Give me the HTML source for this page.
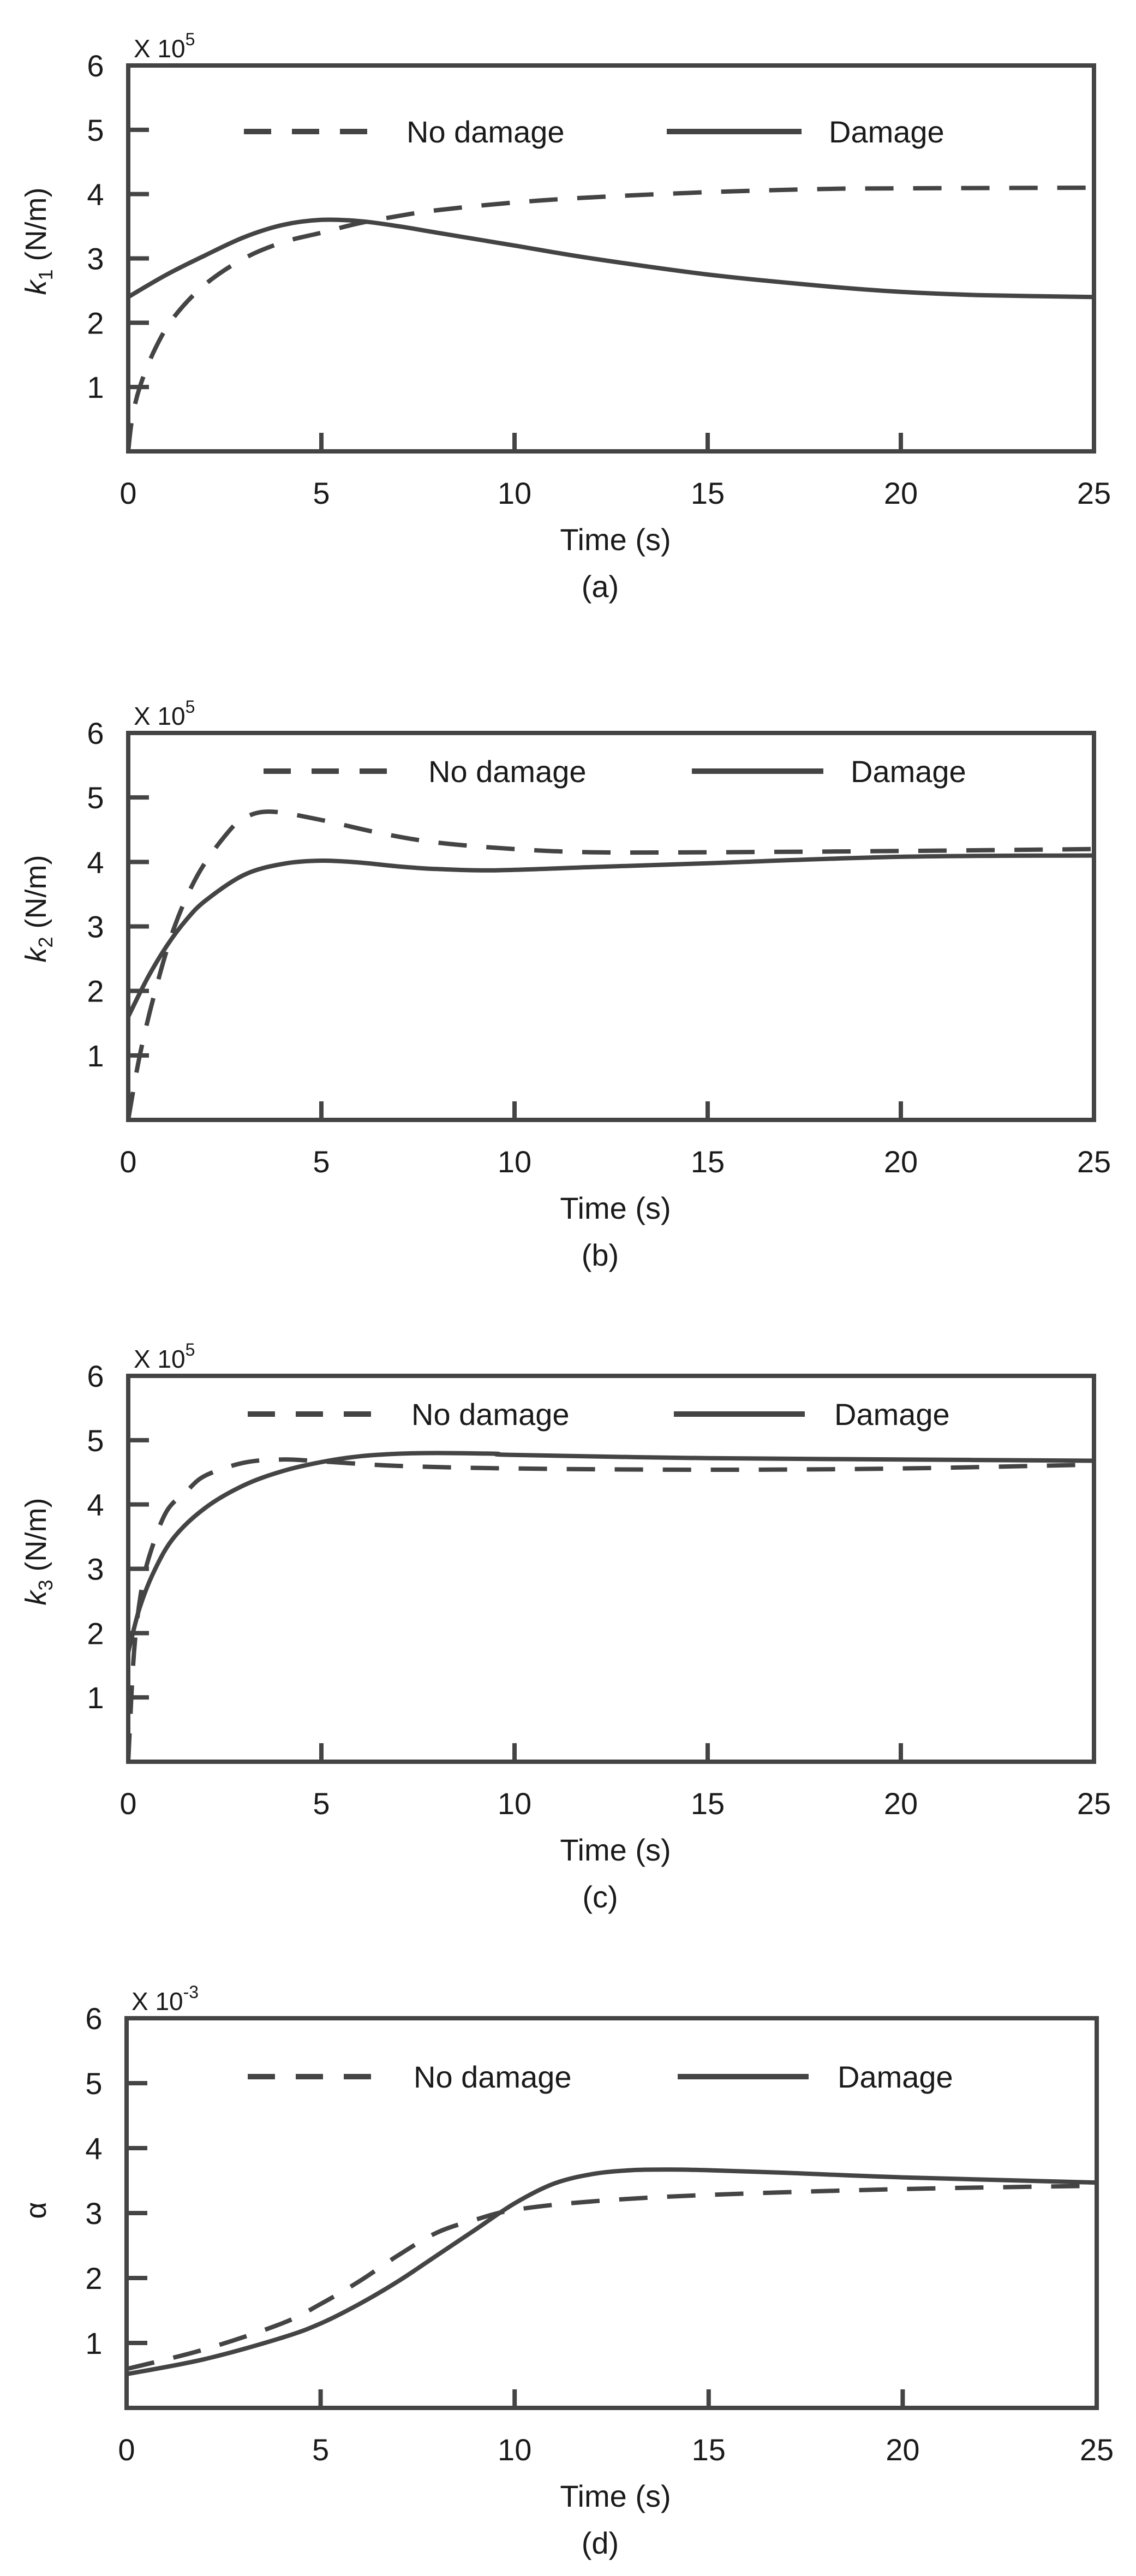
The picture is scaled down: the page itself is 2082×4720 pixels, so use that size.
<!DOCTYPE html>
<html><head><meta charset="utf-8">
<style>
html,body{margin:0;padding:0;background:#fff;}
svg{display:block;}
text{font-family:"Liberation Sans",sans-serif;fill:#1a1a1a;}
</style></head>
<body>
<svg id="s" width="2082" height="4720" viewBox="0 0 2082 4720" xmlns="http://www.w3.org/2000/svg">
<rect width="2082" height="4720" fill="#fff"/>
<g id="g"></g>
<!-- panel a -->
<text x="245" y="105" font-size="46">X 10<tspan dy="-22" font-size="32">5</tspan></text>
<text x="745" y="261" font-size="56">No damage</text>
<text x="1519" y="261" font-size="56">Damage</text>
<text transform="translate(84,442) rotate(-90)" text-anchor="middle" font-size="54"><tspan font-style="italic">k</tspan><tspan font-size="36" dy="12">1</tspan><tspan dy="-12">  (N/m)</tspan></text>
<text x="1128" y="1008" text-anchor="middle" font-size="56">Time  (s)</text>
<text x="1100" y="1094" text-anchor="middle" font-size="56">(a)</text>
<!-- panel b -->
<text x="245" y="1328" font-size="46">X 10<tspan dy="-22" font-size="32">5</tspan></text>
<text x="785" y="1433" font-size="56">No damage</text>
<text x="1559" y="1433" font-size="56">Damage</text>
<text transform="translate(84,1665) rotate(-90)" text-anchor="middle" font-size="54"><tspan font-style="italic">k</tspan><tspan font-size="36" dy="12">2</tspan><tspan dy="-12">  (N/m)</tspan></text>
<text x="1128" y="2233" text-anchor="middle" font-size="56">Time  (s)</text>
<text x="1100" y="2319" text-anchor="middle" font-size="56">(b)</text>
<!-- panel c -->
<text x="245" y="2506" font-size="46">X 10<tspan dy="-22" font-size="32">5</tspan></text>
<text x="754" y="2611" font-size="56">No damage</text>
<text x="1529" y="2611" font-size="56">Damage</text>
<text transform="translate(84,2843) rotate(-90)" text-anchor="middle" font-size="54"><tspan font-style="italic">k</tspan><tspan font-size="36" dy="12">3</tspan><tspan dy="-12">  (N/m)</tspan></text>
<text x="1128" y="3409" text-anchor="middle" font-size="56">Time  (s)</text>
<text x="1100" y="3495" text-anchor="middle" font-size="56">(c)</text>
<!-- panel d -->
<text x="241" y="3683" font-size="46">X 10<tspan dy="-22" font-size="32">-3</tspan></text>
<text x="758" y="3825" font-size="56">No damage</text>
<text x="1535" y="3825" font-size="56">Damage</text>
<text transform="translate(84,4050) rotate(-90)" text-anchor="middle" font-size="54">α</text>
<text x="1128" y="4593" text-anchor="middle" font-size="56">Time  (s)</text>
<text x="1100" y="4679" text-anchor="middle" font-size="56">(d)</text>
<g id="ticks"></g>
</svg>
<script>
var NS="http://www.w3.org/2000/svg",g=document.getElementById('g'),tg=document.getElementById('ticks');
function el(n,a,p){var e=document.createElementNS(NS,n);for(var k in a)e.setAttribute(k,a[k]);(p||g).appendChild(e);return e;}
var C="#444";
var panels=[
{L:235,R:2005,T:120,B:827,leg:[447,688,1222,1469,241],
 d:[[0,0],[0.1,0.5],[0.3,1.0],[0.7,1.6],[1.2,2.1],[2,2.6],[3,3.0],[4,3.25],[5,3.4],[6,3.55],[7,3.66],[8,3.75],[10,3.87],[12,3.95],[15,4.03],[18,4.08],[20,4.09],[25,4.1]],
 s:[[0,2.4],[1,2.75],[2,3.05],[3,3.33],[4,3.52],[5,3.6],[6,3.58],[7,3.5],[8,3.4],[10,3.2],[12,3.0],[15,2.75],[18,2.57],[20,2.48],[22,2.43],[25,2.4]]},
{L:235,R:2005,T:1343,B:2052,leg:[483,732,1268,1509,1413],
 d:[[0,0],[0.3,1.0],[0.7,2.0],[1.2,3.0],[1.8,3.8],[2.5,4.4],[3,4.68],[3.7,4.78],[5,4.65],[6.5,4.45],[8,4.3],[10,4.2],[12,4.15],[15,4.15],[20,4.17],[25,4.2]],
 s:[[0,1.6],[0.5,2.2],[1,2.7],[1.5,3.1],[2,3.4],[3,3.8],[4,3.97],[5,4.02],[6,3.99],[7,3.93],[8,3.89],[9.5,3.87],[12,3.92],[15,3.98],[20,4.08],[25,4.1]]},
{L:235,R:2005,T:2521,B:3228,leg:[454,701,1235,1475,2591],
 d:[[0,0],[0.15,1.7],[0.35,2.7],[0.6,3.3],[1,3.9],[1.5,4.2],[2,4.45],[3,4.65],[4,4.7],[5,4.67],[7,4.6],[10,4.56],[15,4.54],[20,4.56],[25,4.62]],
 s:[[0,1.7],[0.3,2.4],[0.7,3.0],[1.2,3.5],[2,3.95],[3,4.3],[4,4.52],[5,4.66],[6,4.75],[7,4.79],[8,4.8],[9.5,4.79],[10,4.77],[15,4.72],[20,4.7],[25,4.68]]},
{L:232,R:2010,T:3698,B:4412,leg:[454,701,1242,1482,3805],
 d:[[0,0.6],[2,0.9],[4,1.3],[5,1.6],[6,1.95],[7,2.35],[8,2.7],[9,2.9],[10,3.05],[12,3.18],[15,3.28],[20,3.37],[25,3.42]],
 s:[[0,0.52],[2,0.75],[4,1.08],[5,1.3],[6,1.6],[7,1.95],[8,2.35],[9,2.75],[10,3.15],[11,3.45],[12,3.6],[13,3.66],[14,3.67],[15,3.66],[17,3.62],[20,3.55],[25,3.47]]}
];
function path(pts){
 var d="M"+pts[0][0].toFixed(1)+","+pts[0][1].toFixed(1);
 for(var i=0;i<pts.length-1;i++){
  var p0=pts[Math.max(0,i-1)],p1=pts[i],p2=pts[i+1],p3=pts[Math.min(pts.length-1,i+2)];
  var c1=[p1[0]+(p2[0]-p0[0])/6,p1[1]+(p2[1]-p0[1])/6],c2=[p2[0]-(p3[0]-p1[0])/6,p2[1]-(p3[1]-p1[1])/6];
  d+="C"+c1[0].toFixed(1)+","+c1[1].toFixed(1)+" "+c2[0].toFixed(1)+","+c2[1].toFixed(1)+" "+p2[0].toFixed(1)+","+p2[1].toFixed(1);
 }return d;}
panels.forEach(function(P){
 var sx=(P.R-P.L)/25,sy=(P.B-P.T)/6;
 function tr(a){return a.map(function(p){return [P.L+p[0]*sx,P.B-p[1]*sy];});}
 el('path',{d:path(tr(P.d)),fill:'none',stroke:C,'stroke-width':8,'stroke-dasharray':'52 36'});
 el('path',{d:path(tr(P.s)),fill:'none',stroke:C,'stroke-width':8});
 el('rect',{x:P.L,y:P.T,width:P.R-P.L,height:P.B-P.T,fill:'none',stroke:C,'stroke-width':8},tg);
 for(var i=1;i<=5;i++){var y=P.B-i*sy;el('line',{x1:P.L,x2:P.L+38,y1:y,y2:y,stroke:C,'stroke-width':8},tg);}
 for(var j=1;j<=4;j++){var x=P.L+j*5*sx;el('line',{x1:x,x2:x,y1:P.B,y2:P.B-34,stroke:C,'stroke-width':8},tg);}
 for(var i=1;i<=6;i++){var t=el('text',{x:P.L-60,y:P.B-i*sy+20,'text-anchor':'middle','font-size':56},tg);t.textContent=i;}
 for(var j=0;j<=5;j++){var t=el('text',{x:P.L+j*5*sx,y:P.B+96,'text-anchor':'middle','font-size':56},tg);t.textContent=j*5;}
 var L=P.leg;
 el('line',{x1:L[0],x2:L[1],y1:L[4],y2:L[4],stroke:C,'stroke-width':10,'stroke-dasharray':'50 38'},tg);
 el('line',{x1:L[2],x2:L[3],y1:L[4],y2:L[4],stroke:C,'stroke-width':10},tg);
});
</script>
</body></html>
